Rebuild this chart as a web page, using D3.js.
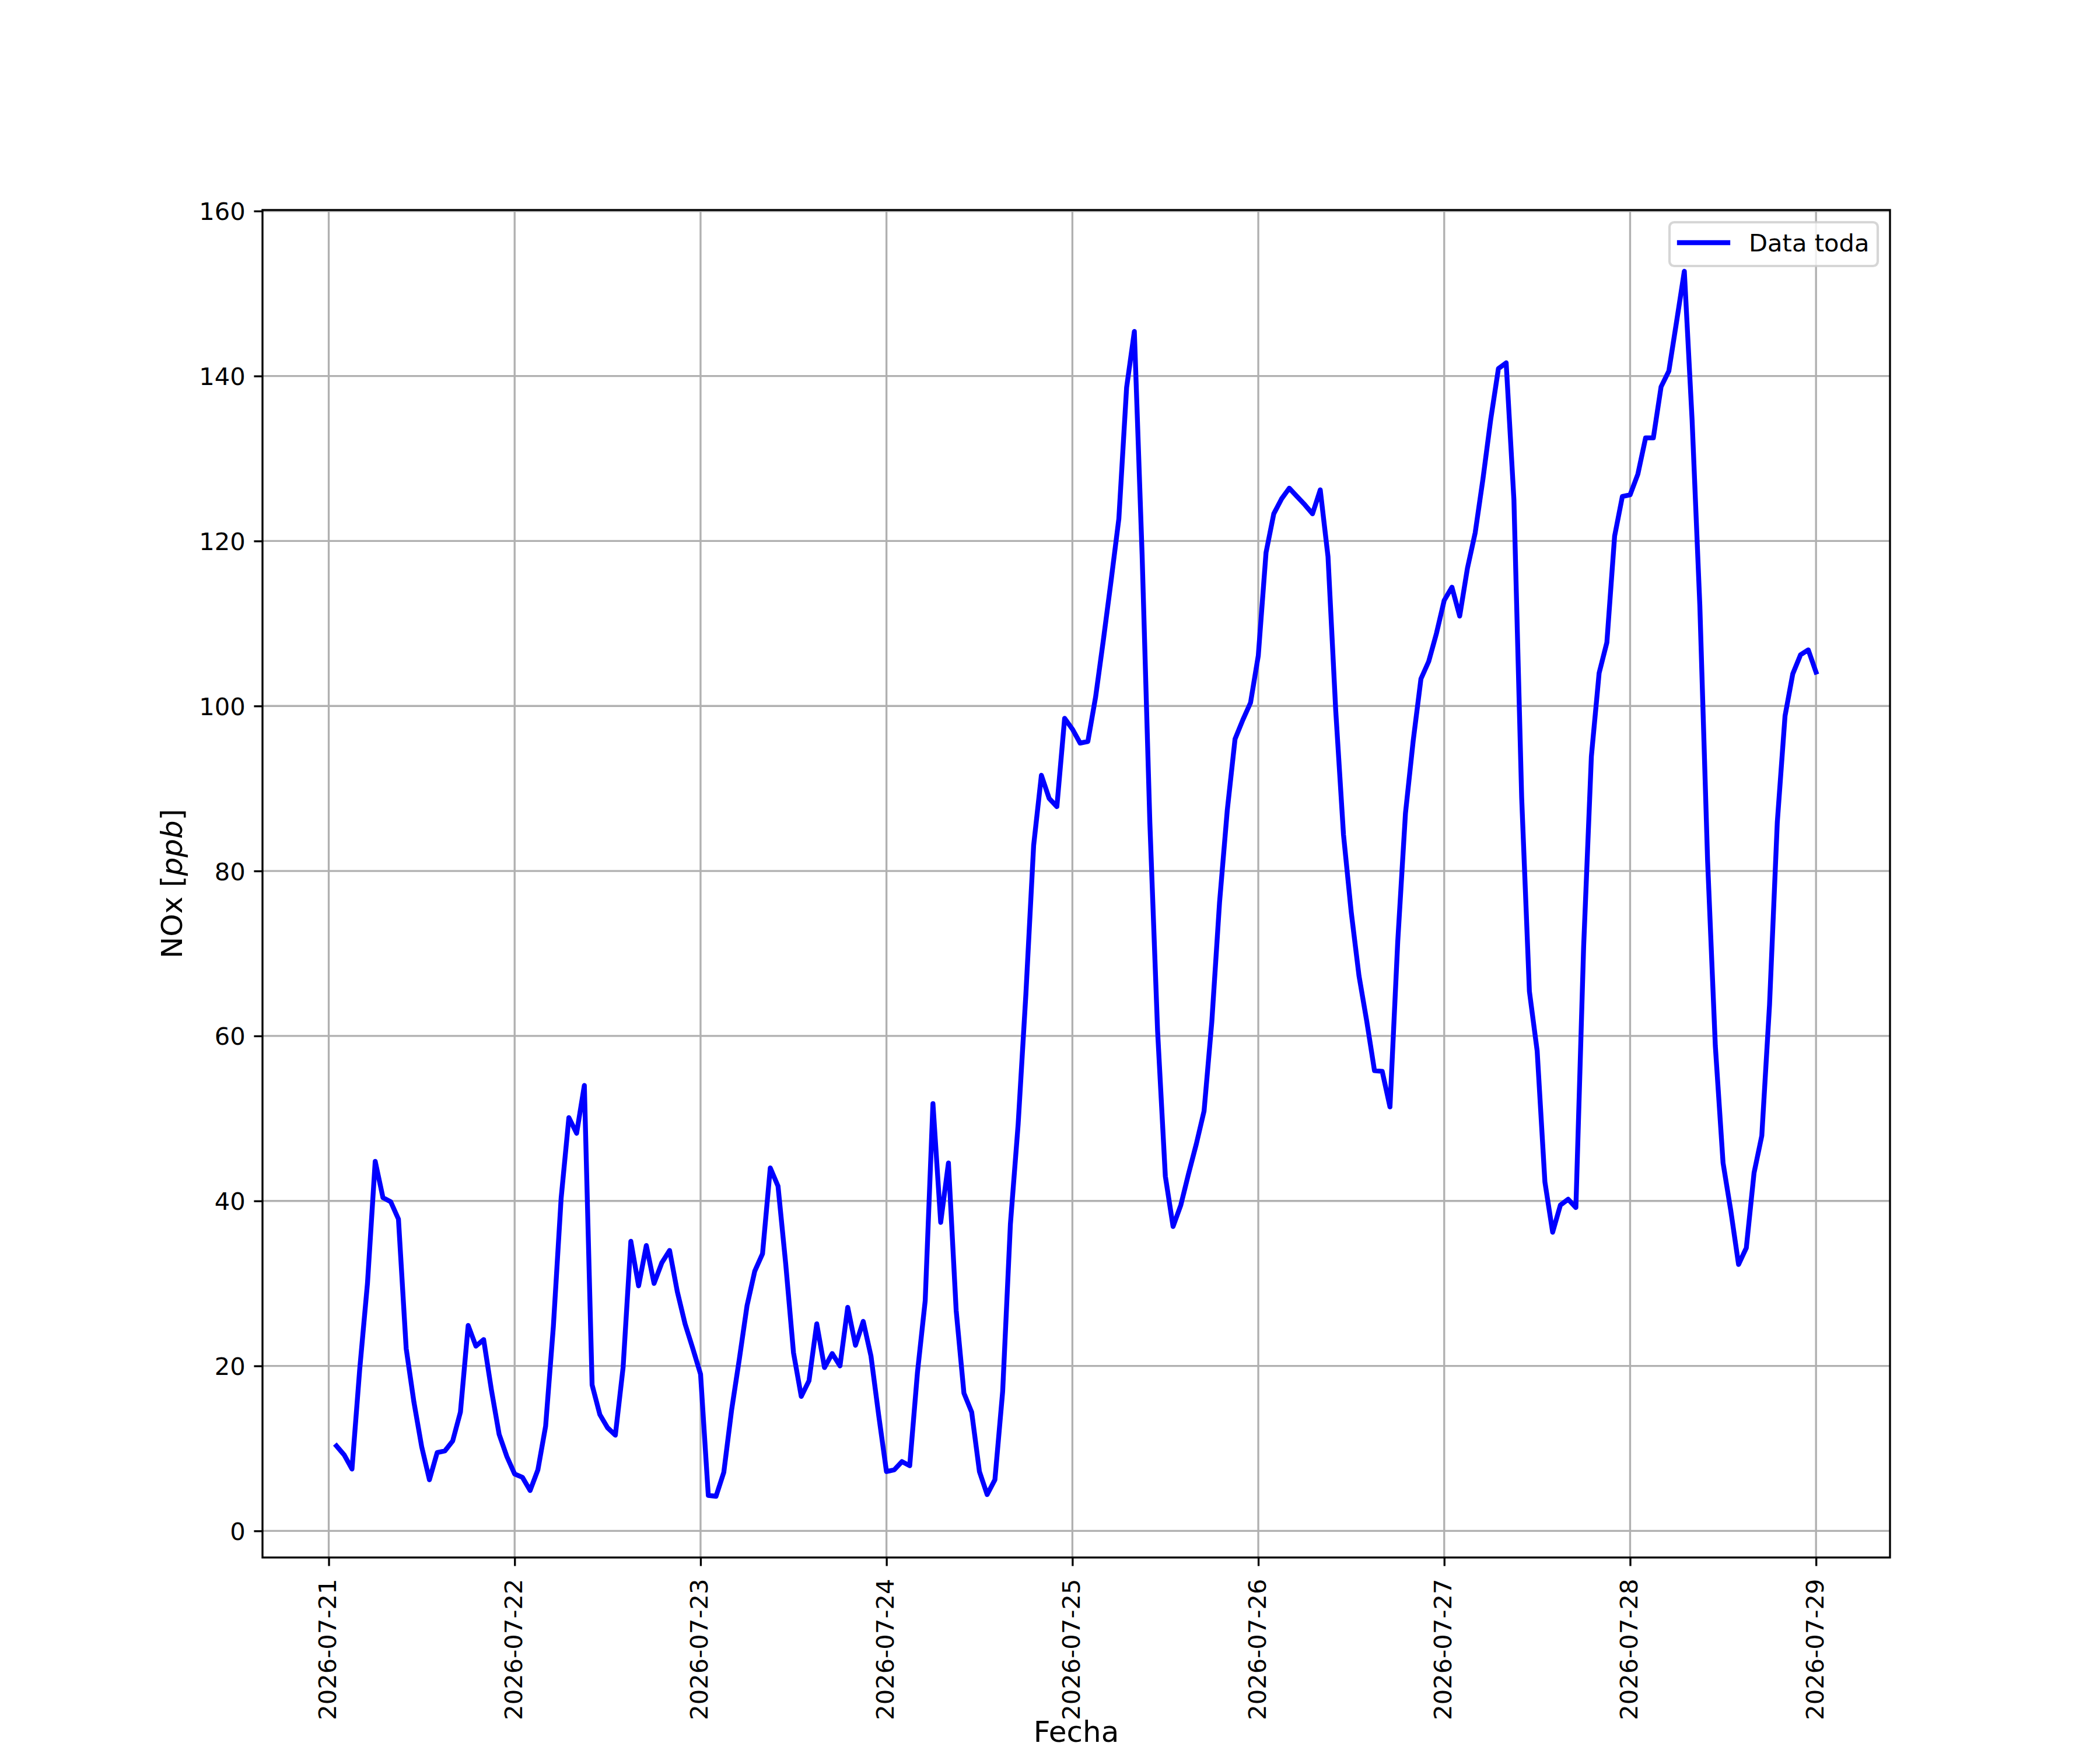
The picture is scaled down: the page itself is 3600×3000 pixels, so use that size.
<!DOCTYPE html>
<html>
<head>
<meta charset="utf-8">
<script src="https://cdn.jsdelivr.net/npm/d3@7"></script>
<style>
  body { margin: 0; background: #fff; }
  svg { display: block; }
  text { font-family: "DejaVu Sans", sans-serif; }
</style>
</head>
<body>
<div id="chart"></div>
<script>
// hourly NOx [ppb], one array per day (07-21 starts at 01:00, 07-29 only 00:00)
const days = ['2026-07-21', '2026-07-22', '2026-07-23', '2026-07-24', '2026-07-25',
              '2026-07-26', '2026-07-27', '2026-07-28', '2026-07-29'];
const firstHour = [1, 0, 0, 0, 0, 0, 0, 0, 0];

const nox_0721 = [10.3, 9.2, 7.5, 19.6, 30.0, 44.8, 40.4, 39.9, 37.8, 22.1, 15.6, 10.2,
                  6.2, 9.5, 9.7, 10.9, 14.4, 24.9, 22.4, 23.2, 17.1, 11.7, 9.0];
const nox_0722 = [6.9, 6.5, 4.9, 7.4, 12.7, 24.8, 40.3, 50.1, 48.2, 54.0, 17.7, 14.1,
                  12.5, 11.6, 19.8, 35.1, 29.7, 34.6, 30.0, 32.5, 34.0, 29.0, 25.1, 22.1];
const nox_0723 = [19.0, 4.3, 4.2, 7.1, 14.6, 20.8, 27.3, 31.5, 33.6, 44.0, 41.8, 32.3,
                  21.6, 16.3, 18.2, 25.1, 19.8, 21.5, 20.0, 27.1, 22.5, 25.4, 21.2, 14.0];
const nox_0724 = [7.2, 7.4, 8.4, 7.9, 19.2, 27.9, 51.8, 37.4, 44.6, 26.7, 16.7, 14.4,
                  7.2, 4.4, 6.2, 16.9, 37.2, 49.3, 65.1, 83.1, 91.6, 88.8, 87.8, 98.5];
const nox_0725 = [97.2, 95.5, 95.7, 101.1, 108.0, 115.2, 122.7, 138.6, 145.4, 118.4, 85.9, 60.6,
                  43.0, 36.9, 39.5, 43.3, 46.9, 50.9, 61.7, 76.2, 87.4, 96.0, 98.3, 100.4];
const nox_0726 = [106.1, 118.6, 123.3, 125.1, 126.4, 125.4, 124.4, 123.3, 126.2, 118.1, 99.4, 84.4,
                  75.0, 67.3, 61.8, 55.8, 55.7, 51.4, 71.4, 87.0, 95.8, 103.3, 105.4, 108.8];
const nox_0727 = [112.8, 114.4, 110.9, 116.7, 121.0, 127.5, 134.7, 140.9, 141.6, 125.0, 88.9, 65.4,
                  58.2, 42.3, 36.2, 39.5, 40.2, 39.2, 70.8, 93.9, 104.0, 107.7, 120.6, 125.4];
const nox_0728 = [125.6, 128.1, 132.5, 132.5, 138.7, 140.6, 146.6, 152.7, 134.7, 112.2, 81.3, 58.8,
                  44.6, 38.8, 32.3, 34.3, 43.4, 47.9, 63.8, 85.9, 98.8, 103.9, 106.2, 106.8];
const nox_0729 = [104.1];

const yTicks = [0, 20, 40, 60, 80, 100, 120, 140, 160];
const legendLabel = 'Data toda';

// build the series
const parseDay = d3.utcParse('%Y-%m-%d');
const perDay = [nox_0721, nox_0722, nox_0723, nox_0724, nox_0725, nox_0726, nox_0727, nox_0728, nox_0729];
const data = [];
perDay.forEach((vals, i) => {
  const d0 = parseDay(days[i]);
  vals.forEach((v, j) => data.push({ t: d3.utcHour.offset(d0, firstHour[i] + j), v: v }));
});
const dayTicks = days.map(parseDay);

// figure 12x10 in @ 300 dpi, default subplot margins
const W = 3600, H = 3000;
const pt = 300 / 72;
const axL = 450, axR = 3240, axT = 360, axB = 2670;

// matplotlib-like 5% autoscale margins
function pad(ext) {
  const m = (ext[1] - ext[0]) * 0.05;
  return [ext[0] - m, ext[1] + m];
}
const tExt = d3.extent(data, d => +d.t);
const vExt = d3.extent(data, d => d.v);

const x = d3.scaleUtc().domain(pad(tExt).map(d => new Date(d))).range([axL, axR]);
const y = d3.scaleLinear().domain(pad(vExt)).range([axB, axT]);

const svg = d3.select('#chart').append('svg')
  .attr('width', W).attr('height', H);
svg.append('rect').attr('width', W).attr('height', H).attr('fill', '#fff');

svg.append('clipPath').attr('id', 'ax')
  .append('rect').attr('x', axL).attr('y', axT)
  .attr('width', axR - axL).attr('height', axB - axT);

// grid
const grid = svg.append('g').attr('stroke', '#b0b0b0').attr('stroke-width', 0.8 * pt);
grid.selectAll('.gx').data(dayTicks).join('line')
  .attr('x1', d => x(d)).attr('x2', d => x(d)).attr('y1', axT).attr('y2', axB);
grid.selectAll('.gy').data(yTicks).join('line')
  .attr('x1', axL).attr('x2', axR).attr('y1', d => y(d)).attr('y2', d => y(d));

// data line
const line = d3.line().x(d => x(d.t)).y(d => y(d.v));
svg.append('path').datum(data)
  .attr('clip-path', 'url(#ax)')
  .attr('d', line)
  .attr('fill', 'none')
  .attr('stroke', '#0000ff')
  .attr('stroke-width', 2 * pt)
  .attr('stroke-linejoin', 'round')
  .attr('stroke-linecap', 'square');

// axes
const tick = 3.5 * pt;
const yAxis = svg.append('g')
  .attr('transform', `translate(${axL},0)`)
  .call(d3.axisLeft(y).tickValues(yTicks).tickSize(tick).tickPadding(tick).tickSizeOuter(0));
const xAxis = svg.append('g')
  .attr('transform', `translate(0,${axB})`)
  .call(d3.axisBottom(x).tickValues(dayTicks).tickFormat(d3.utcFormat('%Y-%m-%d'))
    .tickSize(tick).tickSizeOuter(0));

[yAxis, xAxis].forEach(g => {
  g.select('.domain').remove();
  g.selectAll('line').attr('stroke', '#000').attr('stroke-width', 0.8 * pt);
  g.selectAll('text').attr('font-family', '"DejaVu Sans", sans-serif')
    .attr('font-size', 10 * pt).attr('fill', '#000');
});
yAxis.selectAll('text').attr('dy', '0.36em');
xAxis.selectAll('text')
  .attr('transform', 'rotate(-90)')
  .attr('text-anchor', 'end')
  .attr('x', -(tick + 22))
  .attr('y', 12)
  .attr('dy', null);

// spines
svg.append('rect')
  .attr('x', axL).attr('y', axT)
  .attr('width', axR - axL).attr('height', axB - axT)
  .attr('fill', 'none').attr('stroke', '#000').attr('stroke-width', 0.8 * pt);

// labels
svg.append('text')
  .attr('x', (axL + axR) / 2).attr('y', 2986)
  .attr('text-anchor', 'middle').attr('font-size', 12 * pt)
  .text('Fecha');

const yl = svg.append('text')
  .attr('transform', `translate(312,${(axT + axB) / 2}) rotate(-90)`)
  .attr('text-anchor', 'middle').attr('font-size', 12 * pt);
yl.append('tspan').text('NOx [');
yl.append('tspan').attr('font-style', 'italic').text('ppb');
yl.append('tspan').text(']');

// legend
const lg = svg.append('g');
lg.append('rect')
  .attr('x', 2862).attr('y', 381).attr('width', 357).attr('height', 75)
  .attr('rx', 8).attr('fill', '#fff').attr('fill-opacity', 0.8)
  .attr('stroke', '#cccccc').attr('stroke-opacity', 0.8).attr('stroke-width', 1 * pt);
lg.append('line')
  .attr('x1', 2879).attr('x2', 2962).attr('y1', 416).attr('y2', 416)
  .attr('stroke', '#0000ff').attr('stroke-width', 2 * pt).attr('stroke-linecap', 'square');
lg.append('text')
  .attr('x', 2998).attr('y', 431).attr('font-size', 10 * pt)
  .text(legendLabel);
</script>
</body>
</html>
